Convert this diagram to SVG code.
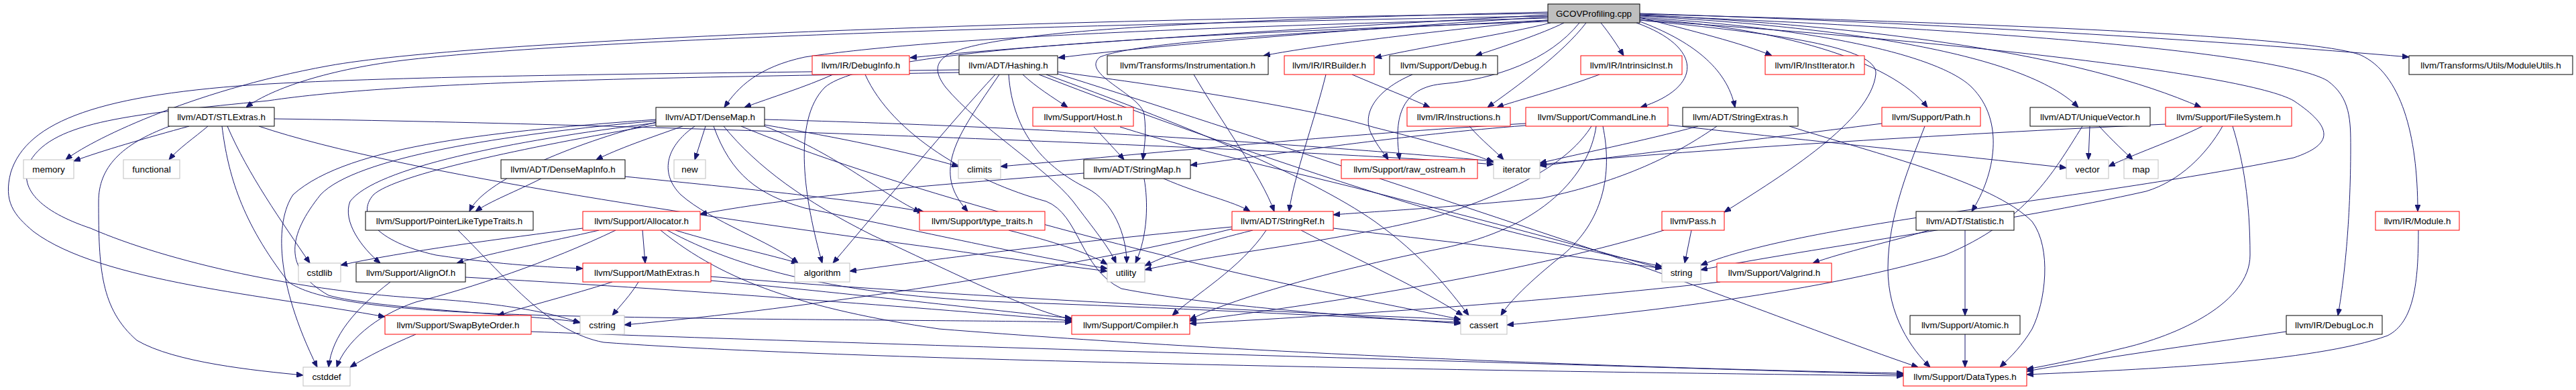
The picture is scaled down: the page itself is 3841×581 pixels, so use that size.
<svg xmlns="http://www.w3.org/2000/svg" width="3841" height="581" viewBox="0 0 3841 581">
<style>
.e path{fill:none;stroke:#191970;stroke-width:1;marker-end:url(#a)}
.n rect{fill:#fff;stroke:#000;stroke-width:1}
.r rect{stroke:#f00}
.g rect{stroke:#bfbfbf}
text{font-family:"Liberation Sans",Arial,sans-serif;font-size:13.4px;fill:#000;text-anchor:middle}
</style>
<defs>
<marker id="a" viewBox="0 0 10 8" refX="10" refY="4" markerWidth="10" markerHeight="8" markerUnits="userSpaceOnUse" orient="auto"><path d="M0,0 L10,4 L0,8 z" fill="#191970" stroke="#191970"/></marker>
</defs>
<rect width="3841" height="581" fill="#fff"/>
<g id="connectors" class="e">
<path d="M2308,20 C1500,30 700,60 490,98 C280,136 130,212 98,238"/>
<path d="M2308,24 C1500,38 850,60 600,90 C480,105 400,135 367,160"/>
<path d="M2308,27 C1800,40 1400,55 1200,85 C1130,100 1100,130 1080,160"/>
<path d="M2308,22 C2000,40 1600,62 1357,86"/>
<path d="M2308,25 C2000,45 1750,65 1578,86"/>
<path d="M2308,30 C2100,50 1950,70 1884,83"/>
<path d="M2312,34 C2250,50 2120,70 2050,86"/>
<path d="M2332,34 C2300,50 2240,70 2200,83"/>
<path d="M2365,34 C2330,80 2260,130 2218,160"/>
<path d="M2355,34 C2310,90 2230,118 2150,125 C2080,132 2080,190 2087,238"/>
<path d="M2387,34 C2400,50 2412,68 2421,83"/>
<path d="M2440,34 C2540,70 2540,130 2446,160"/>
<path d="M2445,32 C2520,60 2575,100 2587,160"/>
<path d="M2445,26 C2520,45 2600,65 2642,83"/>
<path d="M2445,28 C2650,40 2820,90 2874,160"/>
<path d="M2445,24 C2750,40 3020,80 3099,160"/>
<path d="M2445,22 C2800,40 3100,80 3282,160"/>
<path d="M2445,20 C2900,35 3300,60 3592,85"/>
<path d="M2445,21 C3000,35 3450,55 3520,82 C3580,110 3605,200 3605,315"/>
<path d="M2445,23 C3000,45 3400,80 3470,120 C3505,145 3505,180 3505,220 C3505,330 3495,420 3486,470"/>
<path d="M2445,26 C2750,45 2900,90 2940,130 C2990,180 2975,260 2940,315"/>
<path d="M2445,30 C2650,50 2800,70 2797,110 C2790,180 2660,260 2571,316"/>
<path d="M2445,30 C2900,60 3350,110 3420,150 C3480,190 3480,215 3420,235 C3100,300 2700,330 2536,395"/>
<path d="M2308,30 C2000,45 1700,60 1640,85 C1610,110 1700,140 1706,170 C1710,200 1706,220 1704,238"/>
<path d="M2308,32 C1800,50 1300,70 1230,130 C1180,180 1200,300 1226,392"/>
<path d="M2308,18 C1800,30 1500,45 1420,78 C1390,92 1395,110 1410,130 C1460,190 1560,250 1600,300 C1630,340 1655,370 1664,392"/>
<path d="M1242,111 C1200,130 1150,145 1110,160"/>
<path d="M1290,111 C1330,200 1450,270 1560,300 C1610,320 1610,400 1672,430 C1800,455 2000,470 2178,482"/>
<path d="M1525,111 C1545,130 1570,145 1592,160"/>
<path d="M1484,111 C1420,180 1320,300 1242,392"/>
<path d="M1490,111 C1450,170 1420,210 1417,250 C1415,280 1430,300 1443,315"/>
<path d="M1504,111 C1510,200 1560,250 1620,280 C1660,300 1680,350 1680,392"/>
<path d="M1430,104 C1000,110 640,112 400,125 C150,140 40,180 16,257 C5,300 20,320 50,345 C150,420 400,440 574,472"/>
<path d="M1430,108 C1000,116 600,120 400,150 C200,170 80,180 45,240 C25,280 60,315 135,340 C250,390 450,435 640,445 C750,452 820,465 865,481"/>
<path d="M1549,111 C1700,170 1900,240 2060,290 C2250,350 2400,380 2478,397"/>
<path d="M1577,107 C1750,130 1950,160 2050,190 C2150,215 2200,230 2227,242"/>
<path d="M1577,110 C1800,180 2100,280 2400,380 C2600,450 2750,510 2860,547"/>
<path d="M1560,111 C1750,180 1950,260 2050,330 C2120,380 2160,430 2190,470"/>
<path d="M1780,111 C1820,180 1880,260 1900,315"/>
<path d="M2016,111 C2060,130 2100,145 2132,160"/>
<path d="M1977,111 C1960,180 1930,260 1922,315"/>
<path d="M2106,111 C2050,135 2030,170 2045,200 C2055,220 2065,230 2070,238"/>
<path d="M2385,111 C2320,135 2260,150 2232,160"/>
<path d="M2191,188 C2210,210 2230,225 2242,238"/>
<path d="M2275,184 C2000,200 1700,230 1492,248"/>
<path d="M2275,187 C2100,200 1900,230 1775,246"/>
<path d="M2373,188 C2340,240 2270,280 2150,320 C2000,360 1800,380 1707,402"/>
<path d="M2380,188 C2370,260 2300,340 2150,370 C2000,400 1850,440 1774,476"/>
<path d="M2390,188 C2405,260 2390,330 2330,380 C2280,420 2250,450 2238,470"/>
<path d="M2487,186 C2700,210 2950,235 3081,250"/>
<path d="M2532,188 C2450,210 2350,230 2296,243"/>
<path d="M2560,188 C2500,230 2420,270 2300,295 C2150,310 2050,315 1988,320"/>
<path d="M2668,188 C2800,230 2970,270 3030,330 C3060,370 3050,450 3030,490 C3015,515 3000,530 2982,547"/>
<path d="M2806,184 C2600,210 2400,235 2296,247"/>
<path d="M2870,188 C2850,240 2815,320 2815,400 C2815,470 2850,520 2878,547"/>
<path d="M3105,188 C3060,260 3020,330 2900,380 C2700,440 2400,470 2247,484"/>
<path d="M3116,188 L3114,238"/>
<path d="M3130,188 C3150,210 3170,228 3180,238"/>
<path d="M3229,185 C2900,200 2500,225 2296,245"/>
<path d="M3284,188 C3240,210 3180,230 3144,248"/>
<path d="M3314,188 C3290,230 3250,270 3200,285 C3000,330 2700,370 2536,402"/>
<path d="M3329,188 C3345,240 3355,300 3355,380 C3355,450 3250,500 3160,520 C3100,535 3050,545 3022,550"/>
<path d="M3606,343 C3606,420 3600,480 3560,500 C3450,540 3200,550 3022,558"/>
<path d="M3409,494 C3300,510 3150,530 3022,553"/>
<path d="M2876,343 C2820,360 2750,375 2703,392"/>
<path d="M2930,343 L2930,470"/>
<path d="M2930,498 L2930,547"/>
<path d="M2565,420 C2300,450 2000,470 1774,482"/>
<path d="M2522,343 L2512,392"/>
<path d="M2481,343 C2300,400 2000,450 1774,478"/>
<path d="M1670,189 C1800,230 1950,260 2100,300 C2300,350 2420,385 2478,400"/>
<path d="M1631,189 C1650,210 1665,225 1676,238"/>
<path d="M1616,258 C1400,275 1200,290 1044,319"/>
<path d="M1706,266 C1712,300 1712,350 1693,392"/>
<path d="M1735,266 C1790,290 1840,300 1864,315"/>
<path d="M807,266 C770,285 730,300 709,315"/>
<path d="M932,263 C1100,280 1300,300 1378,316"/>
<path d="M683,343 C760,420 820,495 900,510 C1300,540 2400,555 2838,560"/>
<path d="M582,420 C530,460 495,500 490,547"/>
<path d="M694,413 C1000,430 1400,460 1598,478"/>
<path d="M869,340 C750,355 600,375 508,395"/>
<path d="M893,343 C820,360 740,375 681,392"/>
<path d="M918,343 C820,390 700,430 620,450 C560,470 515,510 502,547"/>
<path d="M958,343 L962,392"/>
<path d="M1007,343 C1080,365 1150,380 1190,392"/>
<path d="M995,343 C1100,400 1250,440 1500,450 C1800,460 2050,475 2178,480"/>
<path d="M985,343 C1080,420 1200,460 1400,490 C1900,530 2500,550 2838,556"/>
<path d="M913,420 C850,440 790,455 742,470"/>
<path d="M952,420 C940,440 925,455 913,470"/>
<path d="M1060,418 C1300,440 1500,465 1598,474"/>
<path d="M1060,412 C1400,440 1900,465 2178,476"/>
<path d="M620,498 C580,515 550,530 522,547"/>
<path d="M792,494 C1200,510 2400,545 2838,558"/>
<path d="M1504,343 C1570,360 1620,375 1651,394"/>
<path d="M1837,338 C1600,360 1400,385 1267,404"/>
<path d="M1868,343 C1800,360 1750,375 1707,396"/>
<path d="M1888,343 C1850,400 1780,440 1748,470"/>
<path d="M1940,343 C2030,390 2120,430 2181,470"/>
<path d="M1988,340 C2200,365 2380,385 2478,400"/>
<path d="M1837,341 C1600,400 1200,460 931,484"/>
<path d="M282,188 C220,205 150,225 110,240"/>
<path d="M310,188 C290,205 265,222 252,238"/>
<path d="M253,188 C180,215 147,250 147,300 C147,400 150,460 204,507 C260,540 380,552 452,559"/>
<path d="M331,188 C340,260 360,330 430,420 C500,470 800,470 1100,475 C1400,478 1500,478 1598,480"/>
<path d="M339,188 C370,260 420,330 462,392"/>
<path d="M386,188 C600,260 1100,330 1400,370 C1500,385 1580,395 1651,404"/>
<path d="M409,177 C1000,185 2000,225 2227,245"/>
<path d="M1018,188 C970,205 920,222 889,238"/>
<path d="M1052,188 L1036,238"/>
<path d="M1140,186 C1250,205 1350,225 1429,248"/>
<path d="M1140,178 C1600,190 2000,220 2227,240"/>
<path d="M1036,188 C990,220 985,260 1015,290 C1060,330 1150,360 1190,392"/>
<path d="M1064,188 C1090,260 1130,290 1200,310 C1400,350 1550,385 1651,400"/>
<path d="M1079,188 C1130,250 1200,300 1300,350 C1450,420 1530,460 1598,476"/>
<path d="M1105,188 C1300,270 1700,380 2000,440 C2100,460 2150,470 2178,476"/>
<path d="M1140,188 C1250,230 1300,280 1372,316"/>
<path d="M978,182 C850,215 720,270 700,315"/>
<path d="M978,178 C750,195 520,215 437,290 C410,330 410,420 473,547"/>
<path d="M978,180 C750,200 530,235 478,290 C430,350 420,400 490,440 C560,460 780,468 865,480"/>
<path d="M978,183 C760,210 560,250 522,300 C510,330 540,370 567,392"/>
<path d="M978,186 C780,220 590,260 557,290 C530,320 560,360 650,380 C750,395 820,398 869,400"/>
</g>
<g id="gcov" class="n"><rect x="2308" y="6" width="137" height="28" style="fill:#bfbfbf"/><text x="2376.5" y="25">GCOVProfiling.cpp</text></g>
<g id="debuginfo" class="n r"><rect x="1211" y="83" width="145" height="28"/><text x="1283.5" y="102">llvm/IR/DebugInfo.h</text></g>
<g id="hashing" class="n"><rect x="1430" y="83" width="147" height="28"/><text x="1503.5" y="102">llvm/ADT/Hashing.h</text></g>
<g id="instrumentation" class="n"><rect x="1651" y="83" width="240" height="28"/><text x="1771" y="102">llvm/Transforms/Instrumentation.h</text></g>
<g id="irbuilder" class="n r"><rect x="1915" y="83" width="134" height="28"/><text x="1982" y="102">llvm/IR/IRBuilder.h</text></g>
<g id="debug" class="n"><rect x="2072" y="83" width="161" height="28"/><text x="2152.5" y="102">llvm/Support/Debug.h</text></g>
<g id="intrinsicinst" class="n r"><rect x="2357" y="83" width="151" height="28"/><text x="2432.5" y="102">llvm/IR/IntrinsicInst.h</text></g>
<g id="institerator" class="n r"><rect x="2632" y="83" width="148" height="28"/><text x="2706" y="102">llvm/IR/InstIterator.h</text></g>
<g id="moduleutils" class="n"><rect x="3592" y="83" width="244" height="28"/><text x="3714" y="102">llvm/Transforms/Utils/ModuleUtils.h</text></g>
<g id="stlextras" class="n"><rect x="251" y="160" width="158" height="28"/><text x="330" y="179">llvm/ADT/STLExtras.h</text></g>
<g id="densemap" class="n"><rect x="978" y="160" width="162" height="28"/><text x="1059" y="179">llvm/ADT/DenseMap.h</text></g>
<g id="host" class="n r"><rect x="1540" y="160" width="150" height="28"/><text x="1615" y="179">llvm/Support/Host.h</text></g>
<g id="instructions" class="n r"><rect x="2098" y="160" width="154" height="28"/><text x="2175" y="179">llvm/IR/Instructions.h</text></g>
<g id="commandline" class="n r"><rect x="2275" y="160" width="212" height="28"/><text x="2381" y="179">llvm/Support/CommandLine.h</text></g>
<g id="stringextras" class="n"><rect x="2509" y="160" width="172" height="28"/><text x="2595" y="179">llvm/ADT/StringExtras.h</text></g>
<g id="path" class="n r"><rect x="2806" y="160" width="147" height="28"/><text x="2879.5" y="179">llvm/Support/Path.h</text></g>
<g id="uniquevector" class="n"><rect x="3027" y="160" width="179" height="28"/><text x="3116.5" y="179">llvm/ADT/UniqueVector.h</text></g>
<g id="filesystem" class="n r"><rect x="3229" y="160" width="188" height="28"/><text x="3323" y="179">llvm/Support/FileSystem.h</text></g>
<g id="memory" class="n g"><rect x="35" y="238" width="75" height="28"/><text x="72.5" y="257">memory</text></g>
<g id="functional" class="n g"><rect x="184" y="238" width="84" height="28"/><text x="226" y="257">functional</text></g>
<g id="densemapinfo" class="n"><rect x="747" y="238" width="185" height="28"/><text x="839.5" y="257">llvm/ADT/DenseMapInfo.h</text></g>
<g id="new" class="n g"><rect x="1005" y="238" width="47" height="28"/><text x="1028.5" y="257">new</text></g>
<g id="climits" class="n g"><rect x="1429" y="238" width="63" height="28"/><text x="1460.5" y="257">climits</text></g>
<g id="stringmap" class="n"><rect x="1616" y="238" width="159" height="28"/><text x="1695.5" y="257">llvm/ADT/StringMap.h</text></g>
<g id="raw_ostream" class="n r"><rect x="2000" y="238" width="203" height="28"/><text x="2101.5" y="257">llvm/Support/raw_ostream.h</text></g>
<g id="iterator" class="n g"><rect x="2227" y="238" width="69" height="28"/><text x="2261.5" y="257">iterator</text></g>
<g id="vector" class="n g"><rect x="3081" y="238" width="63" height="28"/><text x="3112.5" y="257">vector</text></g>
<g id="map" class="n g"><rect x="3167" y="238" width="51" height="28"/><text x="3192.5" y="257">map</text></g>
<g id="pointerlike" class="n"><rect x="545" y="315" width="250" height="28"/><text x="670" y="334">llvm/Support/PointerLikeTypeTraits.h</text></g>
<g id="allocator" class="n r"><rect x="869" y="315" width="175" height="28"/><text x="956.5" y="334">llvm/Support/Allocator.h</text></g>
<g id="type_traits" class="n r"><rect x="1371" y="315" width="187" height="28"/><text x="1464.5" y="334">llvm/Support/type_traits.h</text></g>
<g id="stringref" class="n r"><rect x="1837" y="315" width="151" height="28"/><text x="1912.5" y="334">llvm/ADT/StringRef.h</text></g>
<g id="pass" class="n r"><rect x="2478" y="315" width="93" height="28"/><text x="2524.5" y="334">llvm/Pass.h</text></g>
<g id="statistic" class="n"><rect x="2857" y="315" width="146" height="28"/><text x="2930" y="334">llvm/ADT/Statistic.h</text></g>
<g id="module" class="n r"><rect x="3542" y="315" width="125" height="28"/><text x="3604.5" y="334">llvm/IR/Module.h</text></g>
<g id="cstdlib" class="n g"><rect x="445" y="392" width="63" height="28"/><text x="476.5" y="411">cstdlib</text></g>
<g id="alignof" class="n"><rect x="531" y="392" width="163" height="28"/><text x="612.5" y="411">llvm/Support/AlignOf.h</text></g>
<g id="mathextras" class="n r"><rect x="869" y="392" width="191" height="28"/><text x="964.5" y="411">llvm/Support/MathExtras.h</text></g>
<g id="algorithm" class="n g"><rect x="1185" y="392" width="82" height="28"/><text x="1226" y="411">algorithm</text></g>
<g id="utility" class="n g"><rect x="1651" y="392" width="56" height="28"/><text x="1679" y="411">utility</text></g>
<g id="string" class="n g"><rect x="2478" y="392" width="58" height="28"/><text x="2507" y="411">string</text></g>
<g id="valgrind" class="n r"><rect x="2560" y="392" width="171" height="28"/><text x="2645.5" y="411">llvm/Support/Valgrind.h</text></g>
<g id="swapbyteorder" class="n r"><rect x="574" y="470" width="218" height="28"/><text x="683" y="489">llvm/Support/SwapByteOrder.h</text></g>
<g id="cstring" class="n g"><rect x="865" y="470" width="66" height="28"/><text x="898" y="489">cstring</text></g>
<g id="compiler" class="n r"><rect x="1598" y="470" width="176" height="28"/><text x="1686" y="489">llvm/Support/Compiler.h</text></g>
<g id="cassert" class="n g"><rect x="2178" y="470" width="69" height="28"/><text x="2212.5" y="489">cassert</text></g>
<g id="atomic" class="n"><rect x="2848" y="470" width="164" height="28"/><text x="2930" y="489">llvm/Support/Atomic.h</text></g>
<g id="debugloc" class="n"><rect x="3409" y="470" width="143" height="28"/><text x="3480.5" y="489">llvm/IR/DebugLoc.h</text></g>
<g id="cstddef" class="n g"><rect x="452" y="547" width="70" height="28"/><text x="487" y="566">cstddef</text></g>
<g id="datatypes" class="n r"><rect x="2838" y="547" width="184" height="28"/><text x="2930" y="566">llvm/Support/DataTypes.h</text></g>
</svg>
